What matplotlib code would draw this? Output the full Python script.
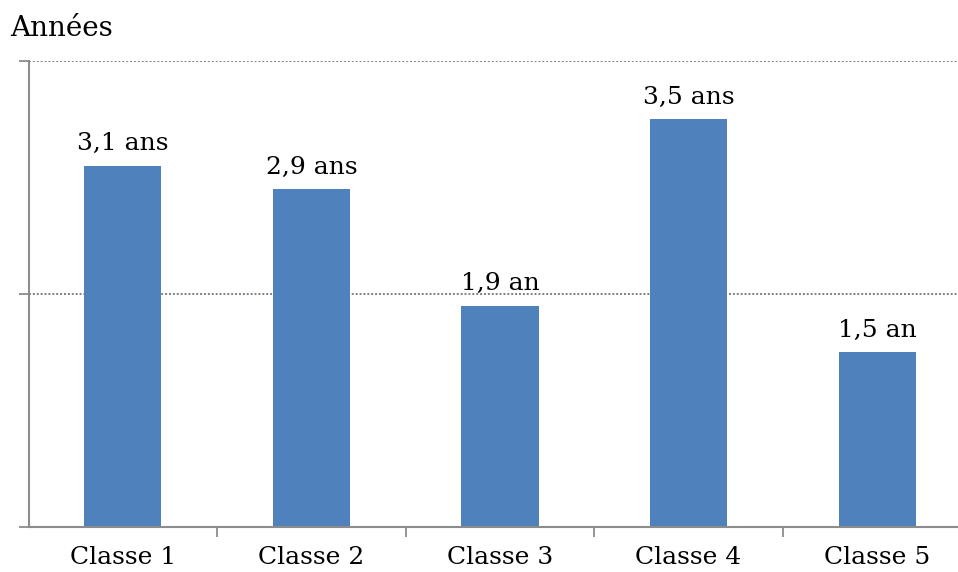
import matplotlib.pyplot as plt
import numpy as np

categories = ["Classe 1", "Classe 2", "Classe 3", "Classe 4", "Classe 5"]
values = [3.1, 2.9, 1.9, 3.5, 1.5]
labels = ["3,1 ans", "2,9 ans", "1,9 an", "3,5 ans", "1,5 an"]

plt.rcParams['font.family'] = ['DejaVu Serif']

fig = plt.figure(figsize=(9.58, 5.72), dpi=100)
# axes runs a bit past the right edge of the figure
ax = fig.add_axes([28.5 / 958, 45 / 572, 943 / 958, 466 / 572])

x = np.arange(len(categories))
ax.bar(x, values, width=0.41, color="#4F81BD", zorder=2)
for xi, v, lab in zip(x, values, labels):
    ax.text(xi, v + 0.09, lab, ha="center", va="bottom", fontsize=18)

ax.set_xlim(-0.5, len(categories) - 0.5)
ax.set_ylim(0, 4)
ax.set_yticks([0, 2, 4])
ax.set_yticklabels([])
ax.set_xticks(x)
ax.set_xticklabels(categories, fontsize=18)
ax.set_xticks(np.arange(0.5, len(categories) - 1, 1), minor=True)
ax.tick_params(axis="x", which="major", length=0, pad=14)
ax.tick_params(axis="x", which="minor", length=7, width=1.3, color="#8c8c8c", direction="out")
ax.tick_params(axis="y", length=7, width=1.3, color="#8c8c8c", direction="out")

ax.grid(axis="y", linestyle=(0, (1, 1)), color="#7f7f7f", linewidth=1.4, zorder=0)
for side in ["top", "right"]:
    ax.spines[side].set_visible(False)
for side in ["left", "bottom"]:
    ax.spines[side].set_color("#8c8c8c")
    ax.spines[side].set_linewidth(1.5)

fig.text(10 / 958, 1 - 29 / 572, "Années", fontsize=20, va="center", ha="left")

fig.savefig("out.png", dpi=100)
